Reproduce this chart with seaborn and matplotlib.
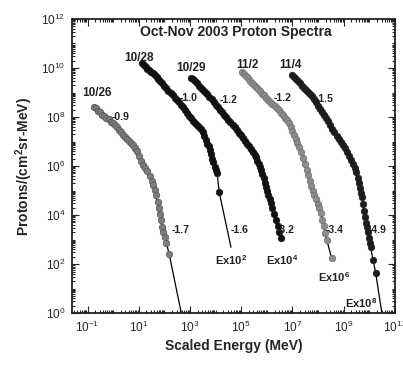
import numpy as np
import pandas as pd
import seaborn as sns
import matplotlib
matplotlib.use("Agg")
import matplotlib.pyplot as plt
from matplotlib.ticker import LogLocator, FixedLocator, LogFormatterSciNotation, NullFormatter

# ---- measured spectra: log10(scaled energy, MeV) and log10(protons/(cm^2 sr MeV))
e_1026 = [-0.73, -0.66, -0.58, -0.50, -0.42, -0.34, -0.26, -0.18, -0.10, -0.02, 0.06, 0.14,
          0.22, 0.30, 0.38, 0.46, 0.54, 0.62, 0.70, 0.78, 0.86, 0.94, 1.02, 1.10, 1.18, 1.26,
          1.34, 1.42, 1.50, 1.57, 1.63, 1.69, 1.75, 1.80, 1.84, 1.88, 1.92, 1.96, 2.02, 2.08, 2.19]
f_1026 = [8.42, 8.36, 8.25, 8.20, 8.10, 8.04, 7.95, 7.90, 7.80, 7.74, 7.66, 7.58,
          7.46, 7.40, 7.28, 7.18, 7.12, 7.04, 6.95, 6.86, 6.74, 6.60, 6.42, 6.22, 6.05, 5.92,
          5.78, 5.60, 5.40, 5.22, 5.02, 4.82, 4.55, 4.30, 4.05, 3.80, 3.52, 3.30, 3.10, 2.88, 2.40]

e_1028 = [1.14, 1.20, 1.27, 1.34, 1.41, 1.48, 1.55, 1.62, 1.70, 1.77, 1.84, 1.92, 2.00, 2.08,
          2.16, 2.24, 2.32, 2.40, 2.48, 2.56, 2.64, 2.72, 2.80, 2.88, 2.96, 3.04, 3.12, 3.20,
          3.28, 3.36, 3.44, 3.50, 3.56, 3.62, 3.68, 3.74, 3.78, 3.82, 3.86, 3.90, 3.96, 4.02,
          4.06, 4.14]
f_1028 = [10.20, 10.12, 10.06, 9.98, 9.92, 9.84, 9.78, 9.70, 9.62, 9.55, 9.46, 9.39, 9.28, 9.18,
          9.08, 8.98, 8.88, 8.78, 8.70, 8.60, 8.50, 8.40, 8.28, 8.16, 8.05, 7.95, 7.85, 7.76,
          7.66, 7.58, 7.50, 7.38, 7.22, 7.06, 6.92, 6.80, 6.66, 6.50, 6.30, 6.15, 5.98, 5.82,
          5.71, 4.94]

e_1029 = [3.05, 3.12, 3.20, 3.28, 3.36, 3.44, 3.52, 3.60, 3.68, 3.76, 3.84, 3.92, 4.00, 4.08,
          4.16, 4.24, 4.32, 4.41, 4.50, 4.58, 4.66, 4.74, 4.82, 4.90, 4.98, 5.06, 5.14, 5.22,
          5.30, 5.38, 5.45, 5.52, 5.58, 5.63, 5.68, 5.73, 5.77, 5.82, 5.87, 5.92, 5.96, 6.01,
          6.06, 6.11, 6.16, 6.22, 6.28, 6.35, 6.42, 6.48, 6.55]
f_1029 = [9.59, 9.55, 9.48, 9.38, 9.28, 9.20, 9.10, 9.02, 8.92, 8.82, 8.72, 8.60, 8.50, 8.40,
          8.30, 8.20, 8.10, 8.00, 7.88, 7.78, 7.68, 7.58, 7.46, 7.36, 7.26, 7.15, 7.04, 6.92,
          6.80, 6.70, 6.58, 6.46, 6.37, 6.22, 6.08, 5.95, 5.84, 5.66, 5.50, 5.30, 5.14, 4.98,
          4.80, 4.64, 4.49, 4.28, 4.05, 3.80, 3.55, 3.32, 3.06]

e_1102 = [5.03, 5.10, 5.18, 5.26, 5.34, 5.42, 5.50, 5.58, 5.66, 5.74, 5.82, 5.90, 5.98, 6.06,
          6.14, 6.22, 6.30, 6.38, 6.46, 6.54, 6.62, 6.70, 6.78, 6.86, 6.93, 7.00, 7.06, 7.12,
          7.18, 7.25, 7.32, 7.40, 7.48, 7.56, 7.62, 7.68, 7.74, 7.80, 7.86, 7.92, 7.98, 8.04,
          8.11, 8.17, 8.22, 8.28, 8.34, 8.53]
f_1102 = [9.84, 9.76, 9.68, 9.58, 9.48, 9.40, 9.30, 9.22, 9.13, 9.05, 8.96, 8.88, 8.78, 8.70,
          8.62, 8.54, 8.46, 8.38, 8.27, 8.17, 8.08, 7.98, 7.88, 7.76, 7.60, 7.45, 7.28, 7.12,
          6.96, 6.78, 6.56, 6.32, 6.08, 5.84, 5.62, 5.40, 5.20, 5.00, 4.82, 4.64, 4.46, 4.28,
          4.08, 3.82, 3.55, 3.28, 2.98, 2.24]

e_1104 = [6.98, 7.05, 7.12, 7.20, 7.28, 7.36, 7.44, 7.52, 7.60, 7.68, 7.76, 7.84, 7.92, 8.00,
          8.08, 8.16, 8.24, 8.32, 8.40, 8.48, 8.56, 8.64, 8.72, 8.80, 8.88, 8.96, 9.04, 9.12,
          9.20, 9.28, 9.36, 9.43, 9.49, 9.54, 9.58, 9.62, 9.66, 9.70, 9.74, 9.78, 9.82, 9.86,
          9.89, 9.93, 9.97, 10.01, 10.05, 10.15, 10.25]
f_1104 = [9.71, 9.62, 9.55, 9.46, 9.37, 9.28, 9.19, 9.10, 9.02, 8.93, 8.84, 8.72, 8.60, 8.47,
          8.34, 8.22, 8.10, 7.97, 7.82, 7.68, 7.52, 7.38, 7.24, 7.12, 7.00, 6.86, 6.72, 6.56,
          6.40, 6.24, 6.08, 5.94, 5.76, 5.52, 5.30, 5.10, 4.92, 4.73, 4.46, 4.18, 3.92, 3.68,
          3.51, 3.30, 3.06, 2.88, 2.69, 2.18, 1.63]

# ---- double power-law fit curves (vertices in the same log units)
fit_e_1026 = [-0.73, 0.44, 1.14, 1.61, 1.92, 2.19, 2.70]
fit_f_1026 = [8.41, 7.20, 6.12, 5.10, 3.50, 2.40, -0.20]
fit_e_1028 = [1.14, 1.92, 2.58, 3.09, 3.47, 3.75, 4.06, 4.14, 4.60]
fit_f_1028 = [10.20, 9.39, 8.57, 7.88, 7.45, 6.78, 5.71, 4.94, 2.69]
fit_e_1029 = [3.05, 3.63, 4.41, 5.03, 5.42, 5.77, 5.96, 6.16, 6.35, 6.55]
fit_f_1029 = [9.59, 8.98, 8.00, 7.20, 6.65, 5.84, 5.14, 4.49, 3.80, 3.06]
fit_e_1102 = [5.03, 5.69, 6.35, 6.86, 7.25, 7.56, 7.83, 8.11, 8.34, 8.53]
fit_f_1102 = [9.84, 9.10, 8.41, 7.76, 6.78, 5.84, 4.90, 4.08, 2.98, 2.24]
fit_e_1104 = [6.98, 7.64, 8.30, 8.92, 9.47, 9.70, 9.89, 10.05, 10.25, 10.52]
fit_f_1104 = [9.71, 8.98, 8.00, 6.94, 5.84, 4.73, 3.51, 2.69, 1.63, -0.20]

events = ["10/26", "10/28", "10/29", "11/2", "11/4"]
event_colors = {"10/26": "#7d7d7d", "10/28": "#111111", "10/29": "#111111",
                "11/2": "#8c8c8c", "11/4": "#1c1c1c"}
event_edges = {"10/26": "#555555", "10/28": "#111111", "10/29": "#111111",
               "11/2": "#6e6e6e", "11/4": "#1c1c1c"}

# Spectral indices and energy scale factors, with label anchors in log units
index_labels = [("-0.9", -0.07, 8.00), ("-1.0", 2.58, 8.78), ("-1.2", 4.14, 8.69),
                ("-1.2", 6.28, 8.78), ("-1.5", 7.91, 8.73),
                ("-1.7", 2.27, 3.39), ("-1.6", 4.60, 3.39), ("-3.2", 6.39, 3.39),
                ("-3.4", 8.30, 3.39), ("-4.9", 9.97, 3.39)]
date_labels = [("10/26", -0.65, 8.98), ("10/28", 1.02, 10.40), ("10/29", 3.05, 10.02),
               ("11/2", 5.23, 10.12), ("11/4", 6.94, 10.12)]
scale_labels = [(r"Ex10$^{2}$", 4.60, 2.16), (r"Ex10$^{4}$", 6.59, 2.16),
                (r"Ex10$^{6}$", 8.61, 1.47), (r"Ex10$^{8}$", 9.66, 0.41)]

x_label_exps = [-1, 1, 3, 5, 7, 9, 11]
y_label_exps = [0, 2, 4, 6, 8, 10, 12]

pts = pd.concat([
    pd.DataFrame({"E": 10.0 ** np.array(e), "F": 10.0 ** np.array(f), "event": ev})
    for ev, e, f in zip(events, [e_1026, e_1028, e_1029, e_1102, e_1104],
                        [f_1026, f_1028, f_1029, f_1102, f_1104])
], ignore_index=True)
fits = pd.concat([
    pd.DataFrame({"E": 10.0 ** np.array(e), "F": 10.0 ** np.array(f), "event": ev})
    for ev, e, f in zip(events, [fit_e_1026, fit_e_1028, fit_e_1029, fit_e_1102, fit_e_1104],
                        [fit_f_1026, fit_f_1028, fit_f_1029, fit_f_1102, fit_f_1104])
], ignore_index=True)

sns.set_style("ticks")
plt.rcParams["font.family"] = ["Liberation Sans", "DejaVu Sans"]
plt.rcParams["mathtext.fontset"] = "custom"
plt.rcParams["mathtext.rm"] = "Liberation Sans:bold"
plt.rcParams["mathtext.it"] = "Liberation Sans:bold"
plt.rcParams["mathtext.bf"] = "Liberation Sans:bold"
plt.rcParams["mathtext.default"] = "regular"

fig = plt.figure(figsize=(4.03, 3.65), dpi=100)
ax = fig.add_axes([0.179, 0.142, 0.801, 0.806])
ax.set_xscale("log")
ax.set_yscale("log")

sns.lineplot(data=fits, x="E", y="F", units="event", estimator=None, sort=False,
             color="black", lw=0.9, ax=ax, legend=False)
for ev in events:
    sns.scatterplot(data=pts[pts["event"] == ev], x="E", y="F", color=event_colors[ev],
                    s=22, edgecolor=event_edges[ev], linewidth=0.5, ax=ax,
                    legend=False, zorder=3)

ax.set_xlim(10 ** -1.6, 10 ** 11)
ax.set_ylim(1, 1e12)

ax.xaxis.set_major_locator(FixedLocator([10.0 ** k for k in x_label_exps]))
ax.yaxis.set_major_locator(FixedLocator([10.0 ** k for k in y_label_exps]))
ax.xaxis.set_minor_locator(LogLocator(base=10.0, subs=np.arange(1, 10), numticks=40))
ax.yaxis.set_minor_locator(LogLocator(base=10.0, subs=np.arange(1, 10), numticks=40))
ax.xaxis.set_minor_formatter(NullFormatter())
ax.yaxis.set_minor_formatter(NullFormatter())
ax.xaxis.set_major_formatter(LogFormatterSciNotation())
ax.yaxis.set_major_formatter(LogFormatterSciNotation())
ax.tick_params(which="both", direction="in", top=True, right=True, width=0.8)
ax.tick_params(which="major", length=5, labelsize=8.5, pad=5)
ax.tick_params(which="minor", length=2.5)
for s in ax.spines.values():
    s.set_linewidth(1.3)
    s.set_color("#222222")

ax.set_xlabel("Scaled Energy (MeV)", fontsize=10, fontweight="bold", labelpad=3)
ax.set_ylabel(r"Protons/(cm$^2$sr-MeV)", fontsize=10, fontweight="bold", labelpad=4)
ax.text(0.508, 0.955, "Oct-Nov 2003 Proton Spectra", transform=ax.transAxes,
        ha="center", va="center", fontsize=10, fontweight="bold", color="#222222")

for txt, lx, ly in date_labels:
    ax.text(10 ** lx, 10 ** ly, txt, ha="center", va="center", fontsize=8.5,
            fontweight="bold", color="#222222")
for txt, lx, ly in index_labels:
    ax.text(10 ** lx, 10 ** ly, txt, ha="left", va="center", fontsize=7.5,
            fontweight="bold", color="#222222")
for txt, lx, ly in scale_labels:
    ax.text(10 ** lx, 10 ** ly, txt, ha="center", va="center", fontsize=8,
            fontweight="bold", color="#222222")

fig.savefig("out.png", dpi=100)
